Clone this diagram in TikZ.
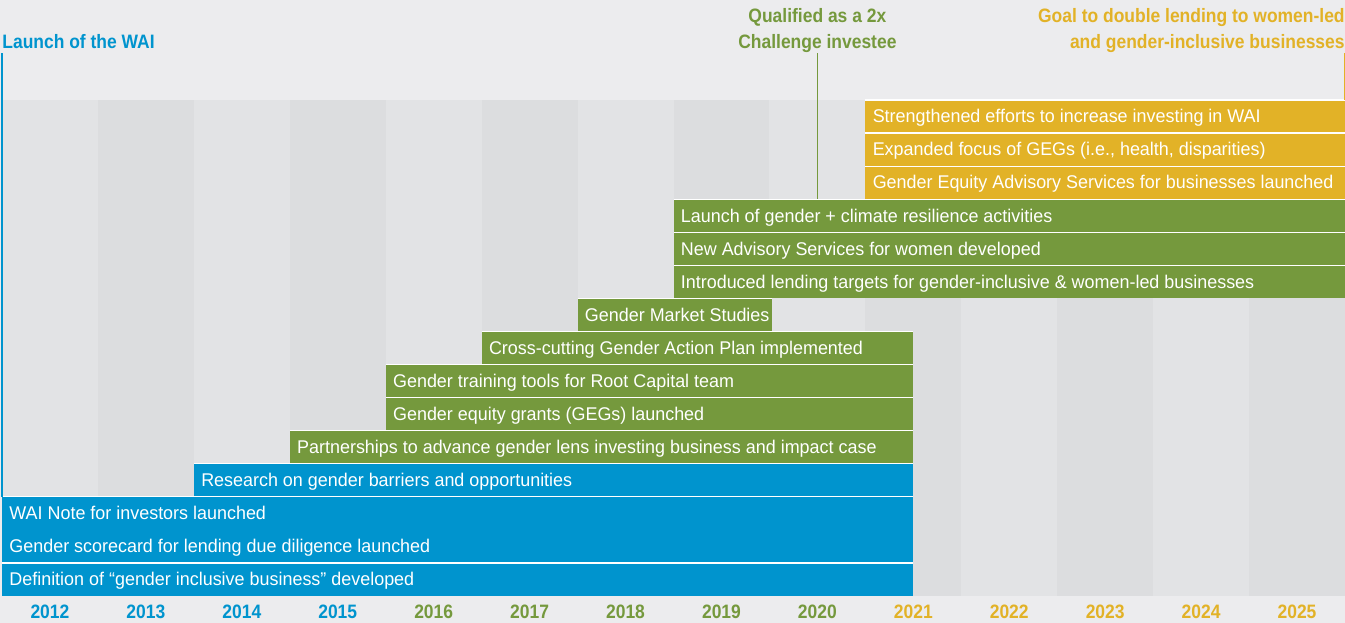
\documentclass[tikz,border=0pt]{standalone}
\usepackage{fontspec}
\setmainfont[FakeStretch=0.975]{Liberation Sans}
\newfontfamily\headfont[FakeStretch=0.9]{Liberation Sans}
\usepackage{xcolor}
\usetikzlibrary{positioning,calc}

\definecolor{waiblue}{RGB}{0,148,206}
\definecolor{growgreen}{RGB}{117,153,61}
\definecolor{goalgold}{RGB}{226,178,39}
\definecolor{bgtop}{RGB}{236,236,238}
\definecolor{collight}{RGB}{226,227,229}
\definecolor{coldark}{RGB}{220,221,223}

\begin{document}
\begin{tikzpicture}[x=47.965pt, y=-16.535pt,
    every node/.style={inner sep=0pt},
    bartext/.style={anchor=base west, text=white, font=\fontsize{9.2}{11}\selectfont},
    headtext/.style={font=\headfont\bfseries\fontsize{9.7}{13}\selectfont},
    sep/.style={white, line width=0.6pt},
    marker/.style={line width=0.6pt}]

    % background
    \fill[bgtop] (-0.0208,-3.024) rectangle (14,15.815);
    \useasboundingbox (-0.0208,-3.024) rectangle (14,15.815);

    % year columns
    \foreach \i in {0,2,...,12}
        \fill[collight] (\i,0) rectangle (\i+1,15);
    \foreach \i in {1,3,...,13}
        \fill[coldark] (\i,0) rectangle (\i+1,15);

    % bars: row/start/end/colour/text
    \foreach \row/\xa/\xb/\col/\txt [count=\n] in {
        0/9/14/goalgold/{Strengthened efforts to increase investing in WAI},
        1/9/14/goalgold/{Expanded focus of GEGs (i.e., health, disparities)},
        2/9/14/goalgold/{Gender Equity Advisory Services for businesses launched},
        3/7/14/growgreen/{Launch of gender + climate resilience activities},
        4/7/14/growgreen/{New Advisory Services for women developed},
        5/7/14/growgreen/{Introduced lending targets for gender-inclusive \& women-led businesses},
        6/6/8.03/growgreen/{Gender Market Studies},
        7/5/9.5/growgreen/{Cross-cutting Gender Action Plan implemented},
        8/4/9.5/growgreen/{Gender training tools for Root Capital team},
        9/4/9.5/growgreen/{Gender equity grants (GEGs) launched},
        10/3/9.5/growgreen/{Partnerships to advance gender lens investing business and impact case},
        11/2/9.5/waiblue/{Research on gender barriers and opportunities},
        12/0/9.5/waiblue/{WAI Note for investors launched},
        13/0/9.5/waiblue/{Gender scorecard for lending due diligence launched},
        14/0/9.5/waiblue/{Definition of “gender inclusive business” developed}
    } {
        \fill[\col] (\xa,\row) rectangle (\xb,\row+1);
        \ifnum\row=13 \else \draw[sep] (\xa,\row) -- (\xb,\row); \fi
        \coordinate (top\n) at (\xa,\row);
        \node[bartext] (bar\n) at ([xshift=3.5pt]\xa,\row+0.69) {\txt};
    }

    % milestones
    \node[headtext, text=waiblue, anchor=south west] (launch) at (0,-1.542) {Launch of the WAI};
    \node[headtext, text=growgreen, anchor=south, align=center] (qual) at (8.5,-1.421)
        {Qualified as a 2x\\Challenge investee};
    \node[headtext, text=goalgold, anchor=south east, align=right] (target) at (14,-1.421)
        {Goal to double lending to women-led\\and gender-inclusive businesses};

    \draw[marker, waiblue, shorten <=2pt] (launch.south west) -- (top13);
    \draw[marker, growgreen] (qual.south) -- (qual.south |- top4);
    \draw[marker, goalgold] ([xshift=-0.3pt]target.south east) -- ([xshift=-0.3pt]target.south east |- top1);

    % years
    \foreach \yr/\col [count=\i from 0] in {2012/waiblue,2013/waiblue,2014/waiblue,2015/waiblue,
        2016/growgreen,2017/growgreen,2018/growgreen,2019/growgreen,2020/growgreen,
        2021/goalgold,2022/goalgold,2023/goalgold,2024/goalgold,2025/goalgold}
        \node[headtext, text=\col, anchor=base] (y\yr) at (\i+0.5,15.69) {\yr};
\end{tikzpicture}
\end{document}
